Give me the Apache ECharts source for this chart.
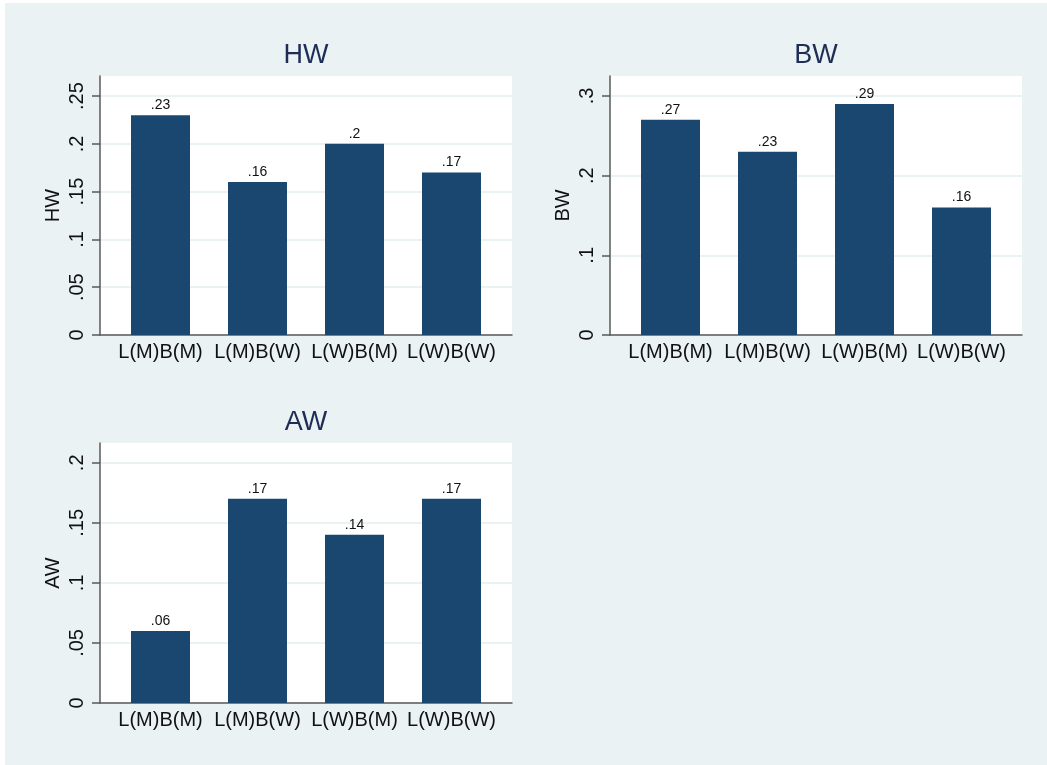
<!DOCTYPE html>
<html>
<head>
<meta charset="utf-8">
<script src="https://cdn.jsdelivr.net/npm/echarts@6/dist/echarts.min.js"></script>
<style>
  html, body { margin: 0; padding: 0; background: #ffffff; }
  #chart { width: 1047px; height: 765px; }
</style>
</head>
<body>
<div id="chart"></div>
<script>
// Shared categories for all three panels
const categories = ['L(M)B(M)', 'L(M)B(W)', 'L(W)B(M)', 'L(W)B(W)'];

// Mean shares per group
const hwValues = [0.23, 0.16, 0.20, 0.17];
const bwValues = [0.27, 0.23, 0.29, 0.16];
const awValues = [0.06, 0.17, 0.14, 0.17];

// Y tick positions per panel
const hwTicks = [0, 0.05, 0.1, 0.15, 0.2, 0.25];
const bwTicks = [0, 0.1, 0.2, 0.3];
const awTicks = [0, 0.05, 0.1, 0.15, 0.2];

const W = 1047, H = 765;
const BG = '#EAF2F3';
const BAR = '#1A476F';
const TITLE = '#1E2D55';
const AXIS = '#5A5A5A';
const FONT = '"Liberation Sans", Arial, Helvetica, sans-serif';

// "0.25" -> ".25", "0" stays "0"
function stataNum(v) {
  const s = String(+v.toFixed(4));
  return s.startsWith('0.') ? s.slice(1) : s;
}

// Panel frames: plot box in page pixels and the axis top value
const panels = [
  { name: 'HW', values: hwValues, ticks: hwTicks, max: 0.271, x0: 100, x1: 512, y0: 76, y1: 335 },
  { name: 'BW', values: bwValues, ticks: bwTicks, max: 0.325, x0: 610, x1: 1022, y0: 76, y1: 335 },
  { name: 'AW', values: awValues, ticks: awTicks, max: 0.2165, x0: 100, x1: 512, y0: 443, y1: 703 }
];

const option = {
  animation: false,
  backgroundColor: '#ffffff',
  textStyle: { fontFamily: FONT },
  graphic: [{
    type: 'rect', z: -10, silent: true,
    shape: { x: 5, y: 3, width: W - 5, height: H - 3 },
    style: { fill: BG }
  }],
  title: [], grid: [], xAxis: [], yAxis: [], series: []
};

panels.forEach((p, i) => {
  const frame = i * 2, inner = i * 2 + 1;
  const pad = 12;
  // plot region with axes and gridlines
  option.grid.push({
    left: p.x0, width: p.x1 - p.x0, top: p.y0, height: p.y1 - p.y0,
    show: true, backgroundColor: '#ffffff', borderWidth: 0
  });
  // bar region, inset from the plot edges
  option.grid.push({
    left: p.x0 + pad, width: p.x1 - p.x0 - 2 * pad, top: p.y0, height: p.y1 - p.y0
  });

  option.title.push({
    text: p.name,
    left: (p.x0 + p.x1) / 2, textAlign: 'center',
    top: p.y0 - 34, padding: 0,
    textStyle: { fontFamily: FONT, fontSize: 27, fontWeight: 'normal', color: TITLE }
  });

  option.xAxis.push({
    gridIndex: frame, type: 'value', min: 0, max: 1,
    axisLine: { show: true, onZero: false, lineStyle: { color: AXIS, width: 1.5 } },
    axisTick: { show: false }, axisLabel: { show: false }, splitLine: { show: false }
  });
  option.yAxis.push({
    gridIndex: frame, type: 'value', min: 0, max: p.max,
    name: p.name, nameLocation: 'middle', nameRotate: 90, nameGap: 37,
    nameTextStyle: { fontFamily: FONT, fontSize: 20, color: '#111' },
    axisLine: { show: true, lineStyle: { color: AXIS, width: 1.5 } },
    axisTick: { show: true, length: 8, customValues: p.ticks, lineStyle: { color: AXIS, width: 1.5 } },
    axisLabel: {
      customValues: p.ticks, rotate: 90, margin: 13,
      fontFamily: FONT, fontSize: 20, color: '#111',
      formatter: v => stataNum(v)
    },
    splitLine: { show: true, lineStyle: { color: BG, width: 2 } }
  });

  option.xAxis.push({
    gridIndex: inner, type: 'category', data: categories,
    axisLine: { show: false }, axisTick: { show: false },
    axisLabel: { interval: 0, margin: 7, fontFamily: FONT, fontSize: 20, color: '#111' }
  });
  option.yAxis.push({
    gridIndex: inner, type: 'value', min: 0, max: p.max, show: false
  });

  option.series.push({
    type: 'bar', xAxisIndex: inner, yAxisIndex: inner,
    data: p.values, barWidth: 59,
    itemStyle: { color: BAR },
    label: {
      show: true, position: 'top', distance: 3,
      fontFamily: FONT, fontSize: 14, color: '#111',
      formatter: d => stataNum(d.value)
    }
  });
});

const chart = echarts.init(document.getElementById('chart'), null, { renderer: 'canvas' });
chart.setOption(option);
</script>
</body>
</html>
